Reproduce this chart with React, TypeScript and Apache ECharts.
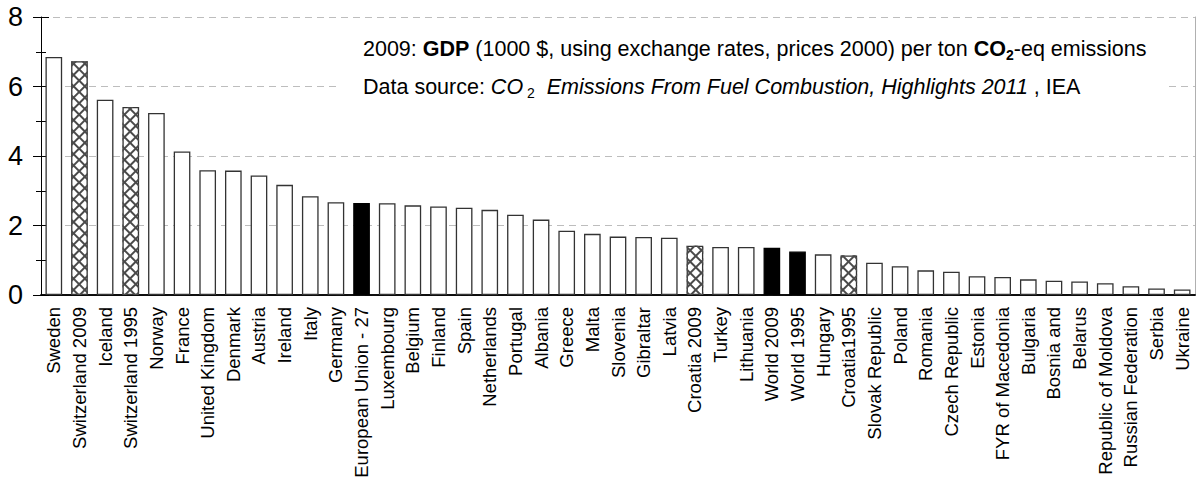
import React, { useEffect, useRef } from "react";
import * as echarts from "echarts";

const categories = [
  "Sweden", "Switzerland 2009", "Iceland", "Switzerland 1995", "Norway", "France",
  "United Kingdom", "Denmark", "Austria", "Ireland", "Italy", "Germany",
  "European Union - 27", "Luxembourg", "Belgium", "Finland", "Spain", "Netherlands",
  "Portugal", "Albania", "Greece", "Malta", "Slovenia", "Gibraltar", "Latvia",
  "Croatia 2009", "Turkey", "Lithuania", "World 2009", "World 1995", "Hungary",
  "Croatia1995", "Slovak Republic", "Poland", "Romania", "Czech Republic", "Estonia",
  "FYR of Macedonia", "Bulgaria", "Bosnia and", "Belarus", "Republic of Moldova",
  "Russian Federation", "Serbia", "Ukraine",
];

const values = [
  6.85, 6.73, 5.62, 5.41, 5.24, 4.13, 3.59, 3.58, 3.44, 3.17, 2.84, 2.67,
  2.65, 2.64, 2.58, 2.55, 2.51, 2.45, 2.31, 2.17, 1.85, 1.76, 1.68, 1.67, 1.65,
  1.42, 1.38, 1.38, 1.36, 1.25, 1.17, 1.14, 0.93, 0.83, 0.71, 0.67, 0.54,
  0.52, 0.45, 0.41, 0.39, 0.34, 0.25, 0.19, 0.16,
];

const hatchedCategories = ["Switzerland 2009", "Switzerland 1995", "Croatia 2009", "Croatia1995"];
const blackCategories = ["European Union - 27", "World 2009", "World 1995"];

const yMin = 0;
const yMax = 8;
const yInterval = 2;

const FONT = '"Liberation Sans", Arial, Helvetica, sans-serif';

export default function App() {
  const ref = useRef<HTMLDivElement>(null);

  useEffect(() => {
    if (!ref.current) return;
    const chart = echarts.init(ref.current, null, { renderer: "svg" });

    const barData = values.map((v, i) => {
      const isBlack = blackCategories.includes(categories[i]);
      return {
        value: v,
        itemStyle: {
          color: isBlack ? "#000000" : "#ffffff",
          borderColor: isBlack ? "#000000" : "#333333",
        },
      };
    });
    const hatchData = values.map((v, i) =>
      hatchedCategories.includes(categories[i]) ? v : "-"
    );

    const tickLine = { color: "#000", width: 1 };

    const hatchDecal = (rotation: number) => ({
      symbol: "rect",
      symbolSize: 1,
      dashArrayX: [1, 0],
      dashArrayY: [1.1, 5.6],
      rotation,
      color: "#4a4a4a",
    });

    chart.setOption({
      animation: false,
      backgroundColor: "#ffffff",
      textStyle: { fontFamily: FONT },
      grid: {
        left: 41,
        right: 1,
        top: 17,
        bottom: 186,
        containLabel: false,
        outerBoundsMode: "none",
      },
      xAxis: [
        {
          type: "category",
          data: categories,
          position: "bottom",
          axisLine: { show: true, lineStyle: { color: "#000", width: 1.5 } },
          axisTick: { show: false },
          axisLabel: {
            rotate: 90,
            interval: 0,
            fontSize: 18.5,
            color: "#000",
            margin: 12,
            fontFamily: FONT,
          },
          splitLine: { show: false },
        },
        {
          type: "category",
          data: categories,
          position: "top",
          axisLine: { show: true, lineStyle: { color: "#000", width: 1.5 } },
          axisTick: { show: false },
          axisLabel: { show: false },
          splitLine: { show: false },
        },
      ],
      yAxis: [
        {
          type: "value",
          min: yMin,
          max: yMax,
          interval: yInterval,
          position: "left",
          axisLine: { show: true, lineStyle: tickLine },
          axisTick: { show: true, inside: false, length: 8, lineStyle: tickLine },
          minorTick: { show: true, splitNumber: 2, length: 5, lineStyle: tickLine },
          axisLabel: { fontSize: 27, color: "#000", margin: 18, fontFamily: FONT },
          splitLine: { show: true, lineStyle: { color: "#bdbdbd", width: 1, type: [7, 5] } },
        },
        {
          type: "value",
          min: yMin,
          max: yMax,
          interval: yInterval,
          position: "left",
          axisLine: { show: false },
          axisTick: { show: true, inside: true, length: 8, lineStyle: tickLine },
          minorTick: { show: true, splitNumber: 2, length: 5, lineStyle: tickLine },
          axisLabel: { show: false },
          splitLine: { show: false },
        },
        {
          type: "value",
          min: yMin,
          max: yMax,
          interval: yInterval,
          position: "right",
          axisLine: { show: true, lineStyle: { color: "#b0b0b0", width: 1 } },
          axisTick: { show: false },
          axisLabel: { show: false },
          splitLine: { show: false },
        },
      ],
      series: [
        {
          type: "bar",
          xAxisIndex: 0,
          yAxisIndex: 0,
          data: barData,
          barWidth: "65%",
          barGap: "-100%",
          itemStyle: { borderWidth: 1.3 },
          z: 2,
        },
        {
          type: "bar",
          xAxisIndex: 0,
          yAxisIndex: 0,
          data: hatchData,
          barWidth: "65%",
          barGap: "-100%",
          itemStyle: { color: "transparent", borderWidth: 0, decal: hatchDecal(Math.PI / 4) },
          z: 3,
        },
        {
          type: "bar",
          xAxisIndex: 0,
          yAxisIndex: 0,
          data: hatchData,
          barWidth: "65%",
          barGap: "-100%",
          itemStyle: { color: "transparent", borderWidth: 0, decal: hatchDecal(-Math.PI / 4) },
          z: 4,
        },
      ],
      graphic: [
        {
          type: "rect",
          z: 10,
          shape: { x: 340, y: 25, width: 828, height: 85 },
          style: { fill: "#ffffff" },
        },
        {
          type: "text",
          z: 11,
          x: 363,
          y: 49,
          style: {
            text:
              "2009: {b|GDP} (1000 $, using exchange rates, prices 2000) per ton {b|CO}{bs|2}-eq emissions",
            fontFamily: FONT,
            fontSize: 21.5,
            lineHeight: 26,
            fill: "#000",
            verticalAlign: "middle",
            align: "left",
            rich: {
              b: { fontWeight: "bold", fontSize: 21.5, lineHeight: 26, fontFamily: FONT, fill: "#000" },
              bs: {
                fontWeight: "bold",
                fontSize: 14,
                lineHeight: 14,
                verticalAlign: "bottom",
                fontFamily: FONT,
                fill: "#000",
              },
            },
          },
        },
        {
          type: "text",
          z: 11,
          x: 363,
          y: 87,
          style: {
            text:
              "Data source: {i|CO}{s| 2}  {i|Emissions From Fuel Combustion, Highlights 2011} , IEA",
            fontFamily: FONT,
            fontSize: 21.5,
            lineHeight: 26,
            fill: "#000",
            verticalAlign: "middle",
            align: "left",
            rich: {
              i: { fontStyle: "italic", fontSize: 21.5, lineHeight: 26, fontFamily: FONT, fill: "#000" },
              s: {
                fontSize: 14,
                lineHeight: 14,
                verticalAlign: "bottom",
                fontFamily: FONT,
                fill: "#000",
              },
            },
          },
        },
      ],
    });

    return () => {
      chart.dispose();
    };
  }, []);

  return (
    <div
      ref={ref}
      style={{ position: "absolute", left: 0, top: 0, width: 1196, height: 481, background: "#fff" }}
    />
  );
}
